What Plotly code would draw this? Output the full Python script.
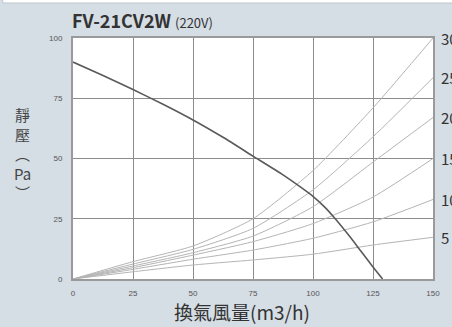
import plotly.graph_objects as go

# Fan performance curve (static pressure vs airflow)
fan_x = [0, 12.5, 25, 37.5, 50, 62.5, 75, 87.5, 95, 100, 105, 109, 115, 120, 125, 129]
fan_y = [90, 84.4, 78.6, 72.5, 66, 58.8, 51, 43.2, 38, 34.3, 29.7, 25.3, 18, 11.5, 5, 0]

# System resistance curves
sys_x = [0, 25, 50, 75, 100, 125, 150]
sys_labels = ["30", "25", "20", "15", "10", "5"]
sys_c1 = [0, 7.2, 13.7, 25, 45, 71, 100]
sys_c2 = [0, 6.2, 12.3, 21, 37, 59, 83.5]
sys_c3 = [0, 5.4, 10.9, 17.8, 30, 48.5, 67]
sys_c4 = [0, 4.7, 9.9, 15.5, 23, 34, 50]
sys_c5 = [0, 4.0, 8.2, 12, 16.9, 23.7, 33]
sys_c6 = [0, 3.0, 5.8, 7.9, 10.3, 14.1, 17.3]
sys_curves = [sys_c1, sys_c2, sys_c3, sys_c4, sys_c5, sys_c6]

tick_vals = [0, 25, 50, 75, 100, 125, 150]
ytick_vals = [0, 25, 50, 75, 100]

BG = "#d5dde5"
CJK = "Noto Sans CJK TC"

fig = go.Figure()
for ys in sys_curves:
    fig.add_trace(go.Scatter(x=sys_x, y=ys, mode="lines",
                             line=dict(color="#b4b4b4", width=1, shape="spline", smoothing=0.6),
                             hoverinfo="skip", showlegend=False))
fig.add_trace(go.Scatter(x=fan_x, y=fan_y, mode="lines",
                         line=dict(color="#5a5a5a", width=1.6, shape="spline", smoothing=0.6),
                         showlegend=False))

# Right-side curve labels (clipped at figure edge as in the original)
for lab, ys in zip(sys_labels, sys_curves):
    fig.add_annotation(x=1, xref="paper", y=ys[-1], yref="y", text=lab, showarrow=False,
                       xanchor="left", xshift=6, font=dict(family=CJK, size=15, color="#333333"))

W, H = 452, 327
ml, mr, mt, mb = 73, 15, 38, 48
pw, ph = W - ml - mr, H - mt - mb

# Title
fig.add_annotation(x=0, xref="paper", y=1, yref="paper", yshift=3, xshift=-3, xanchor="left", yanchor="bottom",
                   text="<b>FV-21CV2W</b> <span style='font-size:13px'>(220V)</span>", showarrow=False,
                   font=dict(family=CJK, size=18, color="#333333"))
# Y-axis title (vertical stacked)
fig.add_annotation(x=-51 / pw, xref="paper", y=0.52, yref="paper", xanchor="center", yanchor="middle",
                   text="靜<br>壓<br>︵<br>Pa<br>︶", showarrow=False, align="center",
                   font=dict(family=CJK, size=15, color="#444444"))
# X-axis title
fig.add_annotation(x=0.47, xref="paper", y=0, yref="paper", yshift=-17, xanchor="center", yanchor="top",
                   text="換氣風量(m3/h)", showarrow=False,
                   font=dict(family=CJK, size=19, color="#333333"))

# Top white panel edge
fig.add_shape(type="rect", xref="paper", yref="paper",
              x0=(-ml + 2) / pw, x1=(W - ml + 5) / pw, y0=1 + (mt - 3) / ph, y1=1 + (mt + 10) / ph,
              fillcolor="white", line=dict(color="#c0c6cc", width=1), layer="above")

axis_common = dict(showgrid=True, gridcolor="#8c8c8c", gridwidth=1, zeroline=False,
                   showline=True, linecolor="#9a9a9a", linewidth=2, mirror=True,
                   ticks="outside", ticklen=7, tickcolor="rgba(0,0,0,0)",
                   tickfont=dict(family="Liberation Sans", size=8, color="#555555"))
fig.update_xaxes(range=[0, 150], tickvals=tick_vals, **axis_common)
fig.update_yaxes(range=[0, 100], tickvals=ytick_vals, **axis_common)
fig.update_xaxes(ticklen=5)

fig.update_layout(width=W, height=H, margin=dict(l=ml, r=mr, t=mt, b=mb),
                  paper_bgcolor=BG, plot_bgcolor="white", showlegend=False)

fig.write_html("out.html", config={"displayModeBar": False},
               post_script="document.body.style.margin='0';document.body.style.overflow='hidden';")
